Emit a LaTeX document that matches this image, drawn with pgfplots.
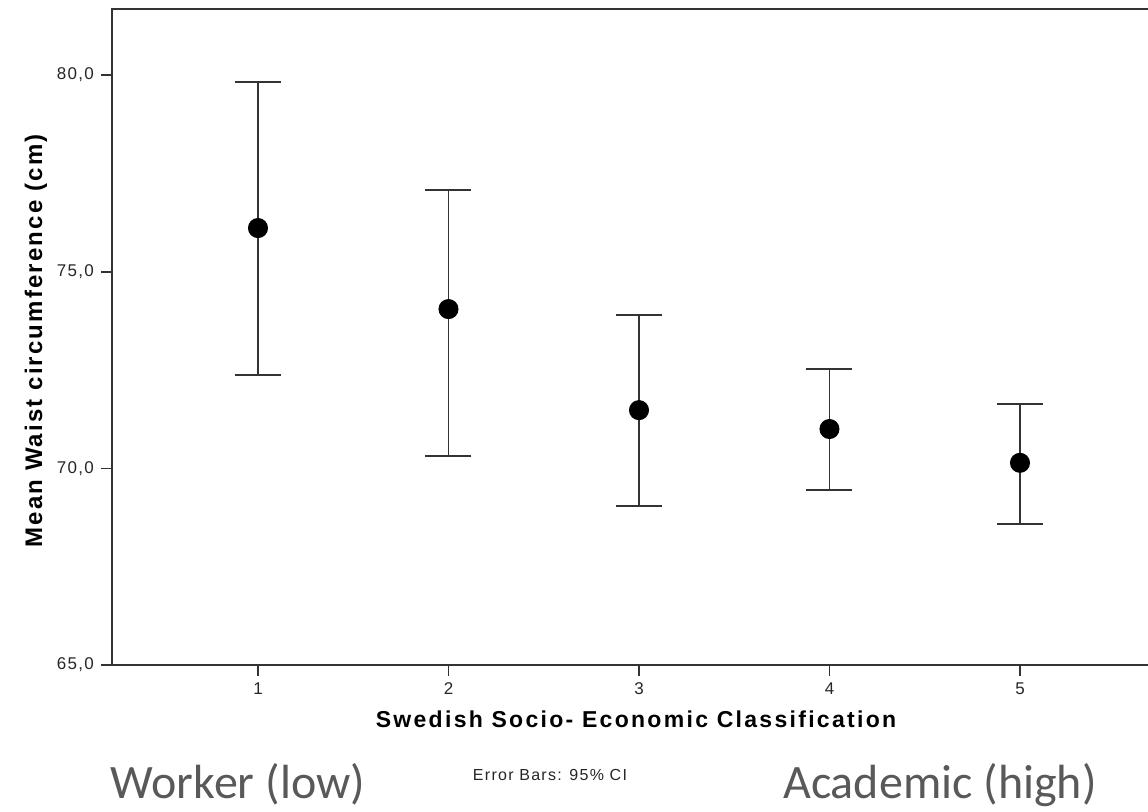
\documentclass[border=0pt]{standalone}
\usepackage{pgfplots}
\pgfplotsset{compat=1.18}
\usepackage{fontspec}
\setmainfont{Liberation Sans}
\newfontfamily\calibri{Carlito}
\newfontfamily\spssbold[LetterSpace=10]{Liberation Sans Bold}
\newfontfamily\spssboldy[LetterSpace=9]{Liberation Sans Bold}
\newfontfamily\spss[LetterSpace=8]{Liberation Sans}
\definecolor{annot}{HTML}{595959}
\begin{document}
\begin{tikzpicture}
\begin{axis}[
  at={(0,0)}, anchor=south west,
  scale only axis,
  width=524pt, height=328pt,
  xmin=0.2336, xmax=5.735,
  ymin=65, ymax=81.68,
  xtick={1,2,3,4,5},
  ytick={65,70,75,80},
  /pgf/number format/assume math mode=true,
  yticklabel style={/pgf/number format/.cd,fixed,fixed zerofill,precision=1,use comma},
  ticklabel style={font=\spss\fontsize{8.5}{10}\selectfont, text=black!85},
  tick align=outside,
  major tick length=5.5pt,
  tick style={black!80, line width=0.8pt},
  axis line style={black!80, line width=0.8pt},
  xtick pos=bottom, ytick pos=left,
  xlabel={Swedish Socio- Economic Classification},
  xlabel style={font=\spssbold\fontsize{11.5}{13}\selectfont, yshift=-1pt},
  ylabel={Mean Waist circumference (cm)},
  ylabel style={font=\spssboldy\fontsize{12}{14}\selectfont, yshift=-2pt, xshift=-2pt},
  clip=false,
]
\addplot[
  only marks, mark=*, mark size=4.8pt, black,
  error bars/.cd, y dir=both, y explicit,
  error bar style={black!80, line width=0.8pt},
  error mark options={rotate=90, mark size=11.5pt, line width=0.8pt, black!80},
] coordinates {
  (1,76.11) +=(0,3.71) -=(0,3.74)
  (2,74.05) +=(0,3.03) -=(0,3.74)
  (3,71.48) +=(0,2.42) -=(0,2.44)
  (4,71.00) +=(0,1.53) -=(0,1.55)
  (5,70.14) +=(0,1.50) -=(0,1.55)
};
\end{axis}
\node[font=\spss\fontsize{8}{9}\selectfont, text=black!85, anchor=base] at (219pt,-58pt) {Error Bars: 95\% CI};
\node[font=\calibri\fontsize{24}{28}\selectfont, text=annot, anchor=base] at (63pt,-67pt) {Worker (low)};
\node[font=\calibri\fontsize{24}{28}\selectfont, text=annot, anchor=base] at (414pt,-67pt) {Academic (high)};
\pgfresetboundingbox
\useasboundingbox (-56pt,-73.5pt) rectangle (518pt,332.5pt);
\end{tikzpicture}
\end{document}
